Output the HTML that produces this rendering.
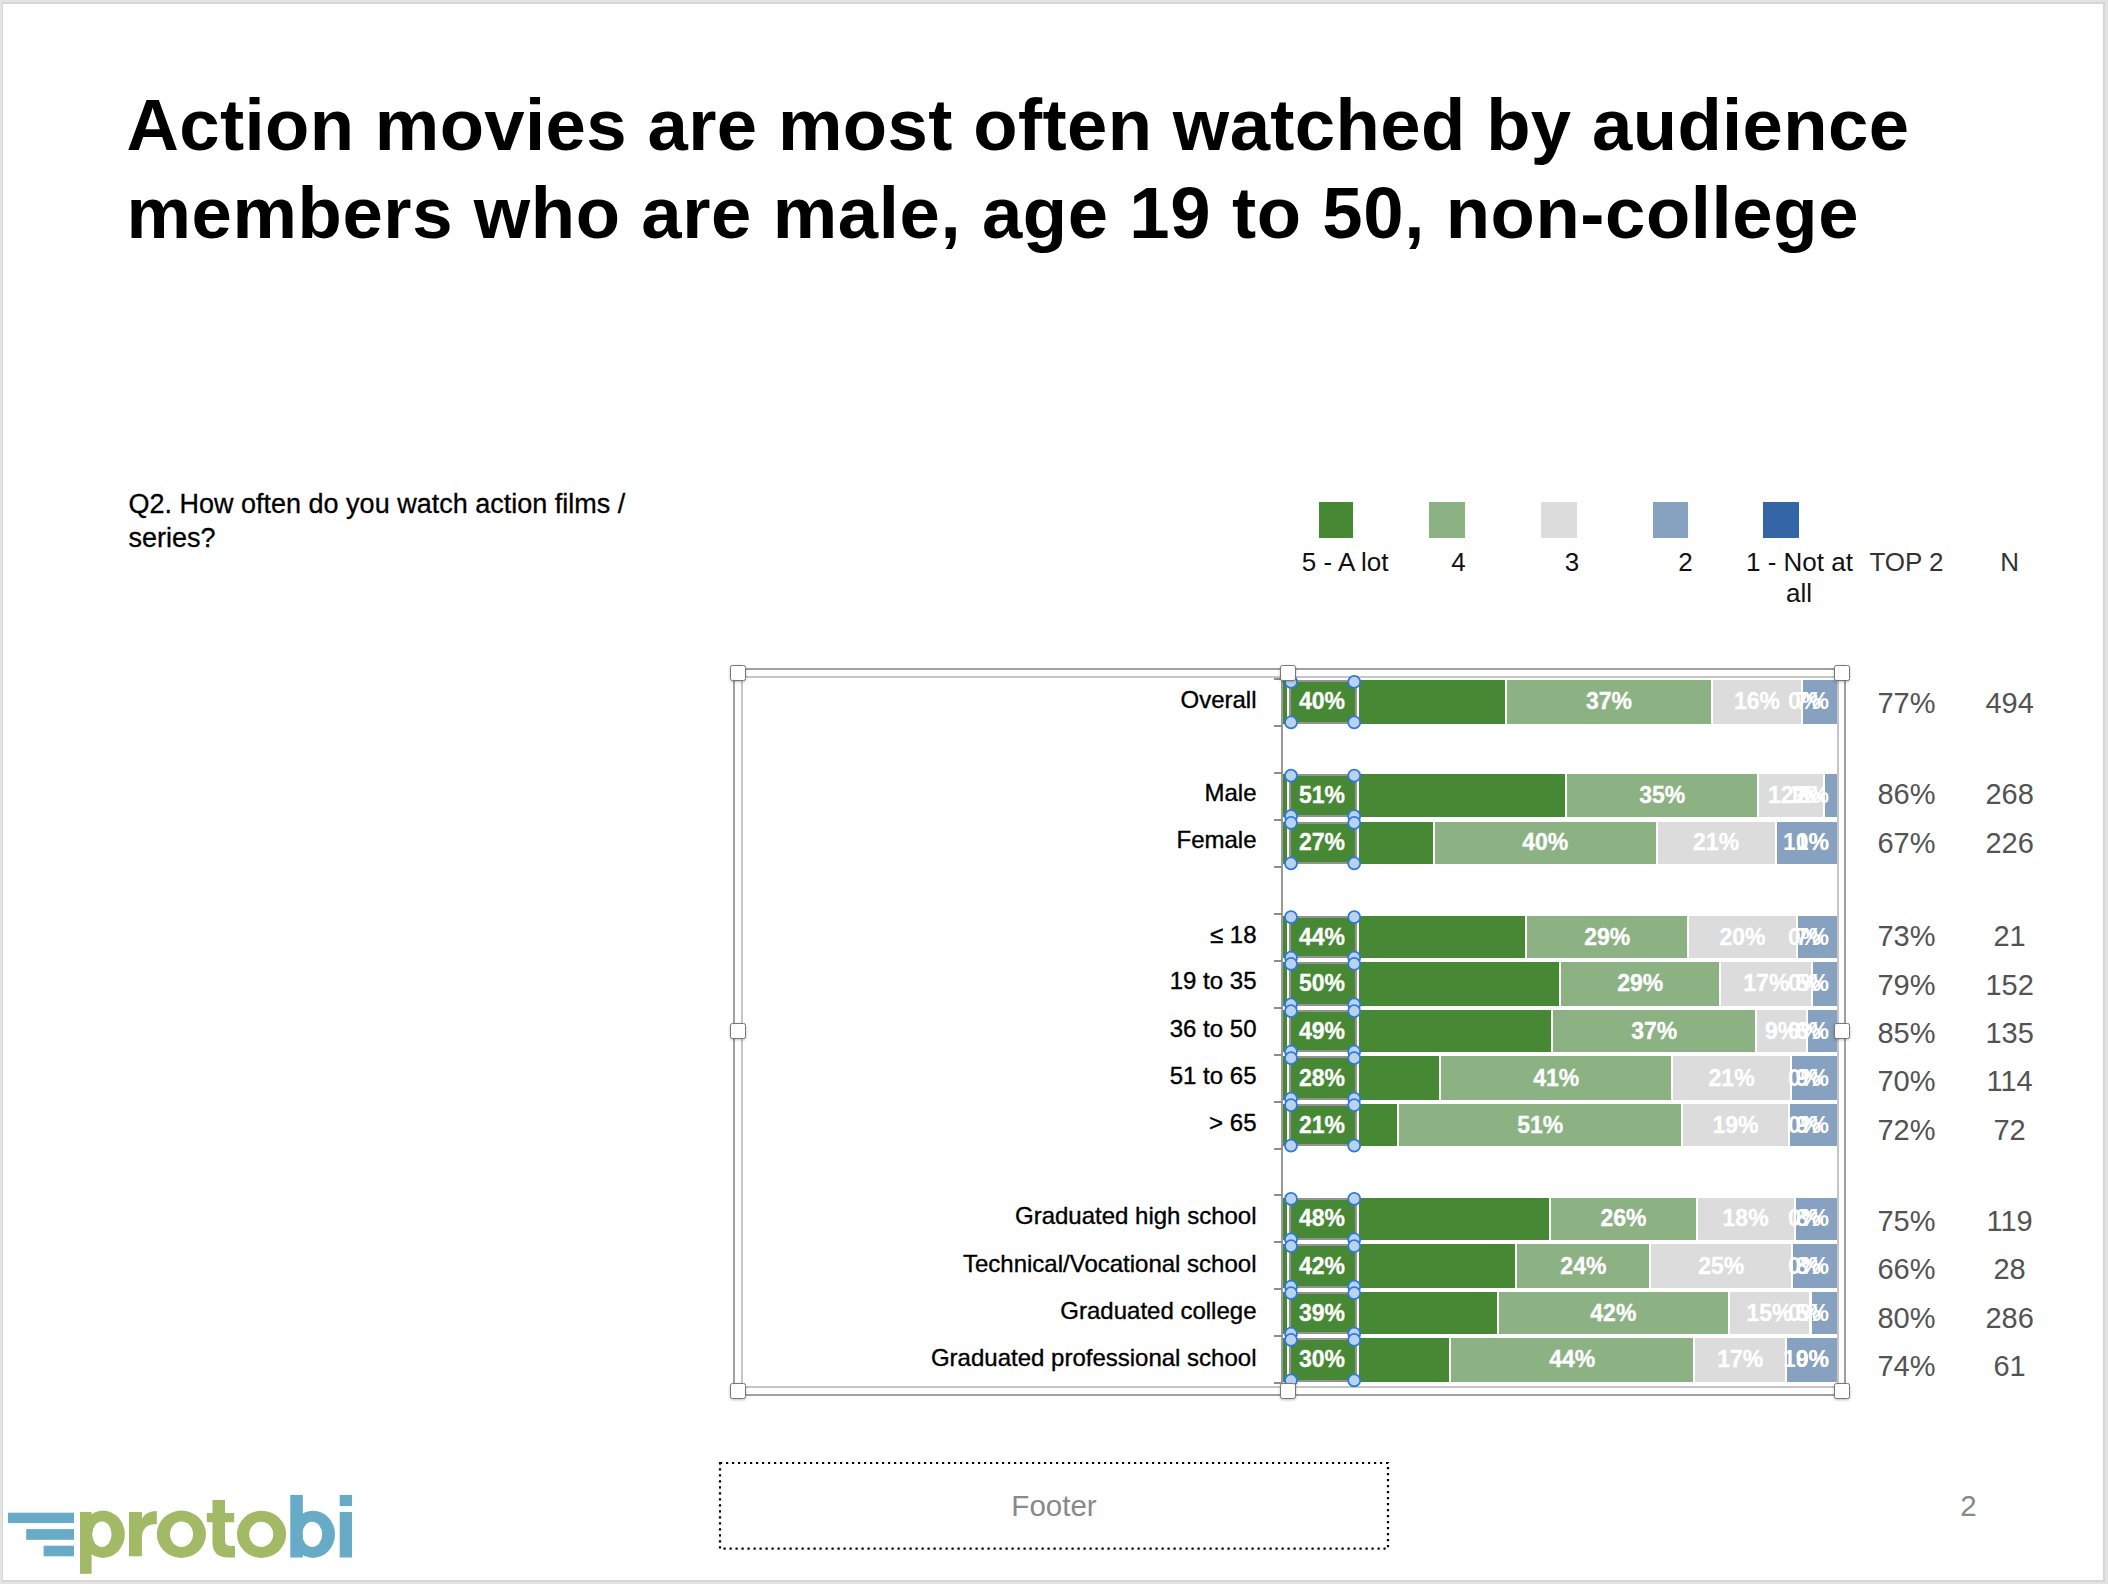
<!DOCTYPE html><html><head><meta charset="utf-8"><title>slide</title><style>
html,body{margin:0;padding:0;}
body{width:2108px;height:1584px;position:relative;overflow:hidden;background:#e4e4e4;font-family:"Liberation Sans", sans-serif;}
.t{position:absolute;white-space:nowrap;}
.tc{text-align:center;}
.r{position:absolute;box-sizing:border-box;}
</style></head><body>
<div class="r" style="left:1.50px;top:1.50px;width:2103.50px;height:1580.00px;background:#d6d6d6;"></div>
<div class="r" style="left:3.00px;top:4.00px;width:2100.00px;height:1576.00px;background:#fff;"></div>
<div class="t" style="left:126.50px;top:89.33px;font-size:72.5px;line-height:72.5px;color:#000;font-weight:bold;letter-spacing:0.38px;">Action movies are most often watched by audience</div>
<div class="t" style="left:126.50px;top:176.63px;font-size:72.5px;line-height:72.5px;color:#000;font-weight:bold;letter-spacing:0.6px;">members who are male, age 19 to 50, non-college</div>
<div class="t" style="left:128.50px;top:491.44px;font-size:27px;line-height:27px;color:#000;font-weight:normal;-webkit-text-stroke:0.3px #000;">Q2. How often do you watch action films /</div>
<div class="t" style="left:128.50px;top:525.34px;font-size:27px;line-height:27px;color:#000;font-weight:normal;-webkit-text-stroke:0.3px #000;">series?</div>
<div class="r" style="left:1319.00px;top:502.00px;width:34.00px;height:36.00px;background:#468834;"></div>
<div class="r" style="left:1429.00px;top:502.00px;width:35.50px;height:36.00px;background:#8cb284;"></div>
<div class="r" style="left:1541.00px;top:502.00px;width:35.50px;height:36.00px;background:#dcdcdc;"></div>
<div class="r" style="left:1652.50px;top:502.00px;width:35.50px;height:36.00px;background:#87a1c1;"></div>
<div class="r" style="left:1763.00px;top:502.00px;width:35.50px;height:36.00px;background:#3465a4;"></div>
<div class="t tc" style="left:1045.20px;width:600px;top:548.59px;font-size:26px;line-height:26px;color:#111;font-weight:normal;">5 - A lot</div>
<div class="t tc" style="left:1158.50px;width:600px;top:548.59px;font-size:26px;line-height:26px;color:#111;font-weight:normal;">4</div>
<div class="t tc" style="left:1272.00px;width:600px;top:548.59px;font-size:26px;line-height:26px;color:#111;font-weight:normal;">3</div>
<div class="t tc" style="left:1385.50px;width:600px;top:548.59px;font-size:26px;line-height:26px;color:#111;font-weight:normal;">2</div>
<div class="t tc" style="left:1499.50px;width:600px;top:548.59px;font-size:26px;line-height:26px;color:#111;font-weight:normal;">1 - Not at</div>
<div class="t tc" style="left:1499.00px;width:600px;top:580.39px;font-size:26px;line-height:26px;color:#111;font-weight:normal;">all</div>
<div class="t tc" style="left:1606.50px;width:600px;top:548.59px;font-size:26px;line-height:26px;color:#333;font-weight:normal;">TOP 2</div>
<div class="t tc" style="left:1709.75px;width:600px;top:548.59px;font-size:26px;line-height:26px;color:#333;font-weight:normal;">N</div>
<div class="r" style="left:733.00px;top:668.00px;width:1113.00px;height:2.00px;background:#a0a0a0;"></div>
<div class="r" style="left:733.00px;top:1394.00px;width:1113.00px;height:2.00px;background:#a0a0a0;"></div>
<div class="r" style="left:733.00px;top:668.00px;width:2.00px;height:728.00px;background:#a0a0a0;"></div>
<div class="r" style="left:1844.00px;top:668.00px;width:2.00px;height:728.00px;background:#a0a0a0;"></div>
<div class="r" style="left:741.00px;top:676.00px;width:1098.00px;height:2.00px;background:#c6c6c6;"></div>
<div class="r" style="left:741.00px;top:1386.00px;width:1098.00px;height:2.00px;background:#c6c6c6;"></div>
<div class="r" style="left:741.00px;top:676.00px;width:2.00px;height:712.00px;background:#c6c6c6;"></div>
<div class="r" style="left:1837.00px;top:676.00px;width:2.00px;height:712.00px;background:#c6c6c6;"></div>
<div class="r" style="left:1281.00px;top:677.00px;width:2.00px;height:710.00px;background:#999;"></div>
<div class="r" style="left:1274.00px;top:678.00px;width:8.00px;height:2.00px;background:#8c8c8c;"></div>
<div class="r" style="left:1274.00px;top:725.00px;width:8.00px;height:2.00px;background:#8c8c8c;"></div>
<div class="r" style="left:1274.00px;top:772.00px;width:8.00px;height:2.00px;background:#8c8c8c;"></div>
<div class="r" style="left:1274.00px;top:819.00px;width:8.00px;height:2.00px;background:#8c8c8c;"></div>
<div class="r" style="left:1274.00px;top:866.00px;width:8.00px;height:2.00px;background:#8c8c8c;"></div>
<div class="r" style="left:1274.00px;top:913.00px;width:8.00px;height:2.00px;background:#8c8c8c;"></div>
<div class="r" style="left:1274.00px;top:960.00px;width:8.00px;height:2.00px;background:#8c8c8c;"></div>
<div class="r" style="left:1274.00px;top:1007.00px;width:8.00px;height:2.00px;background:#8c8c8c;"></div>
<div class="r" style="left:1274.00px;top:1054.00px;width:8.00px;height:2.00px;background:#8c8c8c;"></div>
<div class="r" style="left:1274.00px;top:1101.00px;width:8.00px;height:2.00px;background:#8c8c8c;"></div>
<div class="r" style="left:1274.00px;top:1148.00px;width:8.00px;height:2.00px;background:#8c8c8c;"></div>
<div class="r" style="left:1274.00px;top:1194.00px;width:8.00px;height:2.00px;background:#8c8c8c;"></div>
<div class="r" style="left:1274.00px;top:1241.00px;width:8.00px;height:2.00px;background:#8c8c8c;"></div>
<div class="r" style="left:1274.00px;top:1288.00px;width:8.00px;height:2.00px;background:#8c8c8c;"></div>
<div class="r" style="left:1274.00px;top:1335.00px;width:8.00px;height:2.00px;background:#8c8c8c;"></div>
<div class="r" style="left:1274.00px;top:1382.00px;width:8.00px;height:2.00px;background:#8c8c8c;"></div>
<div class="r" style="left:1282.80px;top:680.00px;width:222.20px;height:43.70px;background:#468834;"></div>
<div class="r" style="left:1507.00px;top:680.00px;width:204.00px;height:43.70px;background:#8cb284;"></div>
<div class="r" style="left:1713.00px;top:680.00px;width:88.00px;height:43.70px;background:#dcdcdc;"></div>
<div class="r" style="left:1803.00px;top:680.00px;width:34.00px;height:43.70px;background:#87a1c1;"></div>
<div class="r" style="left:1287.20px;top:680.00px;width:71.80px;height:43.70px;border-left:2px solid #fff;border-right:2px solid #fff;"></div>
<div class="r" style="left:1289.00px;top:680.00px;width:68.00px;height:43.70px;border:2px solid #939393;"></div>
<div class="t tc" style="left:1022.00px;width:600px;top:690.48px;font-size:23px;line-height:23px;color:#fff;font-weight:bold;-webkit-text-stroke:0.3px #fff;">40%</div>
<div class="t tc" style="left:1309.00px;width:600px;top:690.48px;font-size:23px;line-height:23px;color:#fff;font-weight:bold;-webkit-text-stroke:0.3px #fff;">37%</div>
<div class="t tc" style="left:1457.00px;width:600px;top:690.48px;font-size:23px;line-height:23px;color:#fff;font-weight:bold;-webkit-text-stroke:0.3px #fff;">16%</div>
<div class="t" style="left:1788.00px;top:690.48px;font-size:23px;line-height:23px;color:#fff;font-weight:bold;">0%</div>
<div class="t" style="right:279.00px;top:690.48px;font-size:23px;line-height:23px;color:#fff;font-weight:bold;">7%</div>
<div class="t" style="right:851.50px;top:687.53px;font-size:24px;line-height:24px;color:#000;font-weight:normal;-webkit-text-stroke:0.35px #000;">Overall</div>
<div class="t tc" style="left:1606.50px;width:600px;top:688.65px;font-size:29px;line-height:29px;color:#535353;font-weight:normal;">77%</div>
<div class="t tc" style="left:1709.60px;width:600px;top:688.65px;font-size:29px;line-height:29px;color:#535353;font-weight:normal;">494</div>
<div class="r" style="left:1282.80px;top:774.00px;width:282.50px;height:42.90px;background:#468834;"></div>
<div class="r" style="left:1567.30px;top:774.00px;width:190.00px;height:42.90px;background:#8cb284;"></div>
<div class="r" style="left:1759.30px;top:774.00px;width:63.30px;height:42.90px;background:#dcdcdc;"></div>
<div class="r" style="left:1824.60px;top:774.00px;width:12.40px;height:42.90px;background:#87a1c1;"></div>
<div class="r" style="left:1287.20px;top:774.00px;width:71.80px;height:42.90px;border-left:2px solid #fff;border-right:2px solid #fff;"></div>
<div class="r" style="left:1289.00px;top:774.00px;width:68.00px;height:42.90px;border:2px solid #939393;"></div>
<div class="t tc" style="left:1022.00px;width:600px;top:784.08px;font-size:23px;line-height:23px;color:#fff;font-weight:bold;-webkit-text-stroke:0.3px #fff;">51%</div>
<div class="t tc" style="left:1362.30px;width:600px;top:784.08px;font-size:23px;line-height:23px;color:#fff;font-weight:bold;-webkit-text-stroke:0.3px #fff;">35%</div>
<div class="t tc" style="left:1490.95px;width:600px;top:784.08px;font-size:23px;line-height:23px;color:#fff;font-weight:bold;-webkit-text-stroke:0.3px #fff;">12%</div>
<div class="t" style="left:1788.00px;top:784.08px;font-size:23px;line-height:23px;color:#fff;font-weight:bold;">1%</div>
<div class="t" style="right:279.00px;top:784.08px;font-size:23px;line-height:23px;color:#fff;font-weight:bold;">2%</div>
<div class="t" style="right:851.50px;top:781.13px;font-size:24px;line-height:24px;color:#000;font-weight:normal;-webkit-text-stroke:0.35px #000;">Male</div>
<div class="t tc" style="left:1606.50px;width:600px;top:780.40px;font-size:29px;line-height:29px;color:#535353;font-weight:normal;">86%</div>
<div class="t tc" style="left:1709.60px;width:600px;top:780.40px;font-size:29px;line-height:29px;color:#535353;font-weight:normal;">268</div>
<div class="r" style="left:1282.80px;top:821.80px;width:150.20px;height:41.90px;background:#468834;"></div>
<div class="r" style="left:1435.00px;top:821.80px;width:220.50px;height:41.90px;background:#8cb284;"></div>
<div class="r" style="left:1657.50px;top:821.80px;width:117.20px;height:41.90px;background:#dcdcdc;"></div>
<div class="r" style="left:1776.70px;top:821.80px;width:60.30px;height:41.90px;background:#87a1c1;"></div>
<div class="r" style="left:1287.20px;top:821.80px;width:71.80px;height:41.90px;border-left:2px solid #fff;border-right:2px solid #fff;"></div>
<div class="r" style="left:1289.00px;top:821.80px;width:68.00px;height:41.90px;border:2px solid #939393;"></div>
<div class="t tc" style="left:1022.00px;width:600px;top:831.38px;font-size:23px;line-height:23px;color:#fff;font-weight:bold;-webkit-text-stroke:0.3px #fff;">27%</div>
<div class="t tc" style="left:1245.25px;width:600px;top:831.38px;font-size:23px;line-height:23px;color:#fff;font-weight:bold;-webkit-text-stroke:0.3px #fff;">40%</div>
<div class="t tc" style="left:1416.10px;width:600px;top:831.38px;font-size:23px;line-height:23px;color:#fff;font-weight:bold;-webkit-text-stroke:0.3px #fff;">21%</div>
<div class="t" style="right:279.00px;top:831.38px;font-size:23px;line-height:23px;color:#fff;font-weight:bold;">10%</div>
<div class="t" style="right:279.00px;top:831.38px;font-size:23px;line-height:23px;color:#fff;font-weight:bold;">1%</div>
<div class="t" style="right:851.50px;top:828.43px;font-size:24px;line-height:24px;color:#000;font-weight:normal;-webkit-text-stroke:0.35px #000;">Female</div>
<div class="t tc" style="left:1606.50px;width:600px;top:829.45px;font-size:29px;line-height:29px;color:#535353;font-weight:normal;">67%</div>
<div class="t tc" style="left:1709.60px;width:600px;top:829.45px;font-size:29px;line-height:29px;color:#535353;font-weight:normal;">226</div>
<div class="r" style="left:1282.80px;top:916.10px;width:242.50px;height:41.70px;background:#468834;"></div>
<div class="r" style="left:1527.30px;top:916.10px;width:160.00px;height:41.70px;background:#8cb284;"></div>
<div class="r" style="left:1689.30px;top:916.10px;width:106.40px;height:41.70px;background:#dcdcdc;"></div>
<div class="r" style="left:1797.70px;top:916.10px;width:39.30px;height:41.70px;background:#87a1c1;"></div>
<div class="r" style="left:1287.20px;top:916.10px;width:71.80px;height:41.70px;border-left:2px solid #fff;border-right:2px solid #fff;"></div>
<div class="r" style="left:1289.00px;top:916.10px;width:68.00px;height:41.70px;border:2px solid #939393;"></div>
<div class="t tc" style="left:1022.00px;width:600px;top:925.58px;font-size:23px;line-height:23px;color:#fff;font-weight:bold;-webkit-text-stroke:0.3px #fff;">44%</div>
<div class="t tc" style="left:1307.30px;width:600px;top:925.58px;font-size:23px;line-height:23px;color:#fff;font-weight:bold;-webkit-text-stroke:0.3px #fff;">29%</div>
<div class="t tc" style="left:1442.50px;width:600px;top:925.58px;font-size:23px;line-height:23px;color:#fff;font-weight:bold;-webkit-text-stroke:0.3px #fff;">20%</div>
<div class="t" style="left:1788.00px;top:925.58px;font-size:23px;line-height:23px;color:#fff;font-weight:bold;">0%</div>
<div class="t" style="right:279.00px;top:925.58px;font-size:23px;line-height:23px;color:#fff;font-weight:bold;">7%</div>
<div class="t" style="right:851.50px;top:922.63px;font-size:24px;line-height:24px;color:#000;font-weight:normal;-webkit-text-stroke:0.35px #000;">&le; 18</div>
<div class="t tc" style="left:1606.50px;width:600px;top:922.15px;font-size:29px;line-height:29px;color:#535353;font-weight:normal;">73%</div>
<div class="t tc" style="left:1709.60px;width:600px;top:922.15px;font-size:29px;line-height:29px;color:#535353;font-weight:normal;">21</div>
<div class="r" style="left:1282.80px;top:962.00px;width:276.40px;height:43.60px;background:#468834;"></div>
<div class="r" style="left:1561.20px;top:962.00px;width:158.10px;height:43.60px;background:#8cb284;"></div>
<div class="r" style="left:1721.30px;top:962.00px;width:90.10px;height:43.60px;background:#dcdcdc;"></div>
<div class="r" style="left:1813.40px;top:962.00px;width:23.60px;height:43.60px;background:#87a1c1;"></div>
<div class="r" style="left:1287.20px;top:962.00px;width:71.80px;height:43.60px;border-left:2px solid #fff;border-right:2px solid #fff;"></div>
<div class="r" style="left:1289.00px;top:962.00px;width:68.00px;height:43.60px;border:2px solid #939393;"></div>
<div class="t tc" style="left:1022.00px;width:600px;top:972.43px;font-size:23px;line-height:23px;color:#fff;font-weight:bold;-webkit-text-stroke:0.3px #fff;">50%</div>
<div class="t tc" style="left:1340.25px;width:600px;top:972.43px;font-size:23px;line-height:23px;color:#fff;font-weight:bold;-webkit-text-stroke:0.3px #fff;">29%</div>
<div class="t tc" style="left:1466.35px;width:600px;top:972.43px;font-size:23px;line-height:23px;color:#fff;font-weight:bold;-webkit-text-stroke:0.3px #fff;">17%</div>
<div class="t" style="left:1788.00px;top:972.43px;font-size:23px;line-height:23px;color:#fff;font-weight:bold;">0%</div>
<div class="t" style="right:279.00px;top:972.43px;font-size:23px;line-height:23px;color:#fff;font-weight:bold;">5%</div>
<div class="t" style="right:851.50px;top:969.48px;font-size:24px;line-height:24px;color:#000;font-weight:normal;-webkit-text-stroke:0.35px #000;">19 to 35</div>
<div class="t tc" style="left:1606.50px;width:600px;top:970.85px;font-size:29px;line-height:29px;color:#535353;font-weight:normal;">79%</div>
<div class="t tc" style="left:1709.60px;width:600px;top:970.85px;font-size:29px;line-height:29px;color:#535353;font-weight:normal;">152</div>
<div class="r" style="left:1282.80px;top:1010.10px;width:268.40px;height:41.80px;background:#468834;"></div>
<div class="r" style="left:1553.20px;top:1010.10px;width:202.20px;height:41.80px;background:#8cb284;"></div>
<div class="r" style="left:1757.40px;top:1010.10px;width:48.60px;height:41.80px;background:#dcdcdc;"></div>
<div class="r" style="left:1808.00px;top:1010.10px;width:29.00px;height:41.80px;background:#87a1c1;"></div>
<div class="r" style="left:1287.20px;top:1010.10px;width:71.80px;height:41.80px;border-left:2px solid #fff;border-right:2px solid #fff;"></div>
<div class="r" style="left:1289.00px;top:1010.10px;width:68.00px;height:41.80px;border:2px solid #939393;"></div>
<div class="t tc" style="left:1022.00px;width:600px;top:1019.63px;font-size:23px;line-height:23px;color:#fff;font-weight:bold;-webkit-text-stroke:0.3px #fff;">49%</div>
<div class="t tc" style="left:1354.30px;width:600px;top:1019.63px;font-size:23px;line-height:23px;color:#fff;font-weight:bold;-webkit-text-stroke:0.3px #fff;">37%</div>
<div class="t tc" style="left:1481.70px;width:600px;top:1019.63px;font-size:23px;line-height:23px;color:#fff;font-weight:bold;-webkit-text-stroke:0.3px #fff;">9%</div>
<div class="t" style="left:1788.00px;top:1019.63px;font-size:23px;line-height:23px;color:#fff;font-weight:bold;">0%</div>
<div class="t" style="right:279.00px;top:1019.63px;font-size:23px;line-height:23px;color:#fff;font-weight:bold;">6%</div>
<div class="t" style="right:851.50px;top:1016.68px;font-size:24px;line-height:24px;color:#000;font-weight:normal;-webkit-text-stroke:0.35px #000;">36 to 50</div>
<div class="t tc" style="left:1606.50px;width:600px;top:1018.65px;font-size:29px;line-height:29px;color:#535353;font-weight:normal;">85%</div>
<div class="t tc" style="left:1709.60px;width:600px;top:1018.65px;font-size:29px;line-height:29px;color:#535353;font-weight:normal;">135</div>
<div class="r" style="left:1282.80px;top:1056.10px;width:156.40px;height:43.90px;background:#468834;"></div>
<div class="r" style="left:1441.20px;top:1056.10px;width:230.20px;height:43.90px;background:#8cb284;"></div>
<div class="r" style="left:1673.40px;top:1056.10px;width:116.40px;height:43.90px;background:#dcdcdc;"></div>
<div class="r" style="left:1791.80px;top:1056.10px;width:45.20px;height:43.90px;background:#87a1c1;"></div>
<div class="r" style="left:1287.20px;top:1056.10px;width:71.80px;height:43.90px;border-left:2px solid #fff;border-right:2px solid #fff;"></div>
<div class="r" style="left:1289.00px;top:1056.10px;width:68.00px;height:43.90px;border:2px solid #939393;"></div>
<div class="t tc" style="left:1022.00px;width:600px;top:1066.68px;font-size:23px;line-height:23px;color:#fff;font-weight:bold;-webkit-text-stroke:0.3px #fff;">28%</div>
<div class="t tc" style="left:1256.30px;width:600px;top:1066.68px;font-size:23px;line-height:23px;color:#fff;font-weight:bold;-webkit-text-stroke:0.3px #fff;">41%</div>
<div class="t tc" style="left:1431.60px;width:600px;top:1066.68px;font-size:23px;line-height:23px;color:#fff;font-weight:bold;-webkit-text-stroke:0.3px #fff;">21%</div>
<div class="t" style="left:1788.00px;top:1066.68px;font-size:23px;line-height:23px;color:#fff;font-weight:bold;">0%</div>
<div class="t" style="right:279.00px;top:1066.68px;font-size:23px;line-height:23px;color:#fff;font-weight:bold;">9%</div>
<div class="t" style="right:851.50px;top:1063.73px;font-size:24px;line-height:24px;color:#000;font-weight:normal;-webkit-text-stroke:0.35px #000;">51 to 65</div>
<div class="t tc" style="left:1606.50px;width:600px;top:1066.85px;font-size:29px;line-height:29px;color:#535353;font-weight:normal;">70%</div>
<div class="t tc" style="left:1709.60px;width:600px;top:1066.85px;font-size:29px;line-height:29px;color:#535353;font-weight:normal;">114</div>
<div class="r" style="left:1282.80px;top:1104.00px;width:114.40px;height:42.00px;background:#468834;"></div>
<div class="r" style="left:1399.20px;top:1104.00px;width:282.20px;height:42.00px;background:#8cb284;"></div>
<div class="r" style="left:1683.40px;top:1104.00px;width:104.30px;height:42.00px;background:#dcdcdc;"></div>
<div class="r" style="left:1789.70px;top:1104.00px;width:47.30px;height:42.00px;background:#87a1c1;"></div>
<div class="r" style="left:1287.20px;top:1104.00px;width:71.80px;height:42.00px;border-left:2px solid #fff;border-right:2px solid #fff;"></div>
<div class="r" style="left:1289.00px;top:1104.00px;width:68.00px;height:42.00px;border:2px solid #939393;"></div>
<div class="t tc" style="left:1022.00px;width:600px;top:1113.63px;font-size:23px;line-height:23px;color:#fff;font-weight:bold;-webkit-text-stroke:0.3px #fff;">21%</div>
<div class="t tc" style="left:1240.30px;width:600px;top:1113.63px;font-size:23px;line-height:23px;color:#fff;font-weight:bold;-webkit-text-stroke:0.3px #fff;">51%</div>
<div class="t tc" style="left:1435.55px;width:600px;top:1113.63px;font-size:23px;line-height:23px;color:#fff;font-weight:bold;-webkit-text-stroke:0.3px #fff;">19%</div>
<div class="t" style="left:1788.00px;top:1113.63px;font-size:23px;line-height:23px;color:#fff;font-weight:bold;">0%</div>
<div class="t" style="right:279.00px;top:1113.63px;font-size:23px;line-height:23px;color:#fff;font-weight:bold;">9%</div>
<div class="t" style="right:851.50px;top:1110.68px;font-size:24px;line-height:24px;color:#000;font-weight:normal;-webkit-text-stroke:0.35px #000;">&gt; 65</div>
<div class="t tc" style="left:1606.50px;width:600px;top:1115.85px;font-size:29px;line-height:29px;color:#535353;font-weight:normal;">72%</div>
<div class="t tc" style="left:1709.60px;width:600px;top:1115.85px;font-size:29px;line-height:29px;color:#535353;font-weight:normal;">72</div>
<div class="r" style="left:1282.80px;top:1197.80px;width:266.50px;height:42.00px;background:#468834;"></div>
<div class="r" style="left:1551.30px;top:1197.80px;width:144.30px;height:42.00px;background:#8cb284;"></div>
<div class="r" style="left:1697.60px;top:1197.80px;width:96.00px;height:42.00px;background:#dcdcdc;"></div>
<div class="r" style="left:1795.60px;top:1197.80px;width:41.40px;height:42.00px;background:#87a1c1;"></div>
<div class="r" style="left:1287.20px;top:1197.80px;width:71.80px;height:42.00px;border-left:2px solid #fff;border-right:2px solid #fff;"></div>
<div class="r" style="left:1289.00px;top:1197.80px;width:68.00px;height:42.00px;border:2px solid #939393;"></div>
<div class="t tc" style="left:1022.00px;width:600px;top:1207.43px;font-size:23px;line-height:23px;color:#fff;font-weight:bold;-webkit-text-stroke:0.3px #fff;">48%</div>
<div class="t tc" style="left:1323.45px;width:600px;top:1207.43px;font-size:23px;line-height:23px;color:#fff;font-weight:bold;-webkit-text-stroke:0.3px #fff;">26%</div>
<div class="t tc" style="left:1445.60px;width:600px;top:1207.43px;font-size:23px;line-height:23px;color:#fff;font-weight:bold;-webkit-text-stroke:0.3px #fff;">18%</div>
<div class="t" style="left:1788.00px;top:1207.43px;font-size:23px;line-height:23px;color:#fff;font-weight:bold;">0%</div>
<div class="t" style="right:279.00px;top:1207.43px;font-size:23px;line-height:23px;color:#fff;font-weight:bold;">8%</div>
<div class="t" style="right:851.50px;top:1204.48px;font-size:24px;line-height:24px;color:#000;font-weight:normal;-webkit-text-stroke:0.35px #000;">Graduated high school</div>
<div class="t tc" style="left:1606.50px;width:600px;top:1207.45px;font-size:29px;line-height:29px;color:#535353;font-weight:normal;">75%</div>
<div class="t tc" style="left:1709.60px;width:600px;top:1207.45px;font-size:29px;line-height:29px;color:#535353;font-weight:normal;">119</div>
<div class="r" style="left:1282.80px;top:1244.00px;width:232.60px;height:43.90px;background:#468834;"></div>
<div class="r" style="left:1517.40px;top:1244.00px;width:132.00px;height:43.90px;background:#8cb284;"></div>
<div class="r" style="left:1651.40px;top:1244.00px;width:139.80px;height:43.90px;background:#dcdcdc;"></div>
<div class="r" style="left:1793.20px;top:1244.00px;width:43.80px;height:43.90px;background:#87a1c1;"></div>
<div class="r" style="left:1287.20px;top:1244.00px;width:71.80px;height:43.90px;border-left:2px solid #fff;border-right:2px solid #fff;"></div>
<div class="r" style="left:1289.00px;top:1244.00px;width:68.00px;height:43.90px;border:2px solid #939393;"></div>
<div class="t tc" style="left:1022.00px;width:600px;top:1254.58px;font-size:23px;line-height:23px;color:#fff;font-weight:bold;-webkit-text-stroke:0.3px #fff;">42%</div>
<div class="t tc" style="left:1283.40px;width:600px;top:1254.58px;font-size:23px;line-height:23px;color:#fff;font-weight:bold;-webkit-text-stroke:0.3px #fff;">24%</div>
<div class="t tc" style="left:1421.30px;width:600px;top:1254.58px;font-size:23px;line-height:23px;color:#fff;font-weight:bold;-webkit-text-stroke:0.3px #fff;">25%</div>
<div class="t" style="left:1788.00px;top:1254.58px;font-size:23px;line-height:23px;color:#fff;font-weight:bold;">0%</div>
<div class="t" style="right:279.00px;top:1254.58px;font-size:23px;line-height:23px;color:#fff;font-weight:bold;">8%</div>
<div class="t" style="right:851.50px;top:1251.63px;font-size:24px;line-height:24px;color:#000;font-weight:normal;-webkit-text-stroke:0.35px #000;">Technical/Vocational school</div>
<div class="t tc" style="left:1606.50px;width:600px;top:1255.45px;font-size:29px;line-height:29px;color:#535353;font-weight:normal;">66%</div>
<div class="t tc" style="left:1709.60px;width:600px;top:1255.45px;font-size:29px;line-height:29px;color:#535353;font-weight:normal;">28</div>
<div class="r" style="left:1282.80px;top:1292.20px;width:214.30px;height:41.50px;background:#468834;"></div>
<div class="r" style="left:1499.10px;top:1292.20px;width:228.50px;height:41.50px;background:#8cb284;"></div>
<div class="r" style="left:1729.60px;top:1292.20px;width:79.90px;height:41.50px;background:#dcdcdc;"></div>
<div class="r" style="left:1811.50px;top:1292.20px;width:25.50px;height:41.50px;background:#87a1c1;"></div>
<div class="r" style="left:1287.20px;top:1292.20px;width:71.80px;height:41.50px;border-left:2px solid #fff;border-right:2px solid #fff;"></div>
<div class="r" style="left:1289.00px;top:1292.20px;width:68.00px;height:41.50px;border:2px solid #939393;"></div>
<div class="t tc" style="left:1022.00px;width:600px;top:1301.58px;font-size:23px;line-height:23px;color:#fff;font-weight:bold;-webkit-text-stroke:0.3px #fff;">39%</div>
<div class="t tc" style="left:1313.35px;width:600px;top:1301.58px;font-size:23px;line-height:23px;color:#fff;font-weight:bold;-webkit-text-stroke:0.3px #fff;">42%</div>
<div class="t tc" style="left:1469.55px;width:600px;top:1301.58px;font-size:23px;line-height:23px;color:#fff;font-weight:bold;-webkit-text-stroke:0.3px #fff;">15%</div>
<div class="t" style="left:1788.00px;top:1301.58px;font-size:23px;line-height:23px;color:#fff;font-weight:bold;">0%</div>
<div class="t" style="right:279.00px;top:1301.58px;font-size:23px;line-height:23px;color:#fff;font-weight:bold;">5%</div>
<div class="t" style="right:851.50px;top:1298.63px;font-size:24px;line-height:24px;color:#000;font-weight:normal;-webkit-text-stroke:0.35px #000;">Graduated college</div>
<div class="t tc" style="left:1606.50px;width:600px;top:1304.45px;font-size:29px;line-height:29px;color:#535353;font-weight:normal;">80%</div>
<div class="t tc" style="left:1709.60px;width:600px;top:1304.45px;font-size:29px;line-height:29px;color:#535353;font-weight:normal;">286</div>
<div class="r" style="left:1282.80px;top:1337.70px;width:166.40px;height:44.30px;background:#468834;"></div>
<div class="r" style="left:1451.20px;top:1337.70px;width:242.10px;height:44.30px;background:#8cb284;"></div>
<div class="r" style="left:1695.30px;top:1337.70px;width:90.00px;height:44.30px;background:#dcdcdc;"></div>
<div class="r" style="left:1787.30px;top:1337.70px;width:49.70px;height:44.30px;background:#87a1c1;"></div>
<div class="r" style="left:1287.20px;top:1337.70px;width:71.80px;height:44.30px;border-left:2px solid #fff;border-right:2px solid #fff;"></div>
<div class="r" style="left:1289.00px;top:1337.70px;width:68.00px;height:44.30px;border:2px solid #939393;"></div>
<div class="t tc" style="left:1022.00px;width:600px;top:1348.48px;font-size:23px;line-height:23px;color:#fff;font-weight:bold;-webkit-text-stroke:0.3px #fff;">30%</div>
<div class="t tc" style="left:1272.25px;width:600px;top:1348.48px;font-size:23px;line-height:23px;color:#fff;font-weight:bold;-webkit-text-stroke:0.3px #fff;">44%</div>
<div class="t tc" style="left:1440.30px;width:600px;top:1348.48px;font-size:23px;line-height:23px;color:#fff;font-weight:bold;-webkit-text-stroke:0.3px #fff;">17%</div>
<div class="t" style="right:279.00px;top:1348.48px;font-size:23px;line-height:23px;color:#fff;font-weight:bold;">10%</div>
<div class="t" style="right:279.00px;top:1348.48px;font-size:23px;line-height:23px;color:#fff;font-weight:bold;">9%</div>
<div class="t" style="right:851.50px;top:1345.53px;font-size:24px;line-height:24px;color:#000;font-weight:normal;-webkit-text-stroke:0.35px #000;">Graduated professional school</div>
<div class="t tc" style="left:1606.50px;width:600px;top:1352.45px;font-size:29px;line-height:29px;color:#535353;font-weight:normal;">74%</div>
<div class="t tc" style="left:1709.60px;width:600px;top:1352.45px;font-size:29px;line-height:29px;color:#535353;font-weight:normal;">61</div>
<svg class="r" style="left:1270px;top:660px" width="100" height="740" viewBox="1270 660 100 740"><circle cx="1291.00" cy="681.95" r="6" fill="#b9d3ee" stroke="#2f79d8" stroke-width="1.8"/><circle cx="1291.00" cy="722.45" r="6" fill="#b9d3ee" stroke="#2f79d8" stroke-width="1.8"/><circle cx="1354.20" cy="681.95" r="6" fill="#b9d3ee" stroke="#2f79d8" stroke-width="1.8"/><circle cx="1354.20" cy="722.45" r="6" fill="#b9d3ee" stroke="#2f79d8" stroke-width="1.8"/><circle cx="1291.00" cy="775.55" r="6" fill="#b9d3ee" stroke="#2f79d8" stroke-width="1.8"/><circle cx="1291.00" cy="816.05" r="6" fill="#b9d3ee" stroke="#2f79d8" stroke-width="1.8"/><circle cx="1354.20" cy="775.55" r="6" fill="#b9d3ee" stroke="#2f79d8" stroke-width="1.8"/><circle cx="1354.20" cy="816.05" r="6" fill="#b9d3ee" stroke="#2f79d8" stroke-width="1.8"/><circle cx="1291.00" cy="822.85" r="6" fill="#b9d3ee" stroke="#2f79d8" stroke-width="1.8"/><circle cx="1291.00" cy="863.35" r="6" fill="#b9d3ee" stroke="#2f79d8" stroke-width="1.8"/><circle cx="1354.20" cy="822.85" r="6" fill="#b9d3ee" stroke="#2f79d8" stroke-width="1.8"/><circle cx="1354.20" cy="863.35" r="6" fill="#b9d3ee" stroke="#2f79d8" stroke-width="1.8"/><circle cx="1291.00" cy="917.05" r="6" fill="#b9d3ee" stroke="#2f79d8" stroke-width="1.8"/><circle cx="1291.00" cy="957.55" r="6" fill="#b9d3ee" stroke="#2f79d8" stroke-width="1.8"/><circle cx="1354.20" cy="917.05" r="6" fill="#b9d3ee" stroke="#2f79d8" stroke-width="1.8"/><circle cx="1354.20" cy="957.55" r="6" fill="#b9d3ee" stroke="#2f79d8" stroke-width="1.8"/><circle cx="1291.00" cy="963.90" r="6" fill="#b9d3ee" stroke="#2f79d8" stroke-width="1.8"/><circle cx="1291.00" cy="1004.40" r="6" fill="#b9d3ee" stroke="#2f79d8" stroke-width="1.8"/><circle cx="1354.20" cy="963.90" r="6" fill="#b9d3ee" stroke="#2f79d8" stroke-width="1.8"/><circle cx="1354.20" cy="1004.40" r="6" fill="#b9d3ee" stroke="#2f79d8" stroke-width="1.8"/><circle cx="1291.00" cy="1011.10" r="6" fill="#b9d3ee" stroke="#2f79d8" stroke-width="1.8"/><circle cx="1291.00" cy="1051.60" r="6" fill="#b9d3ee" stroke="#2f79d8" stroke-width="1.8"/><circle cx="1354.20" cy="1011.10" r="6" fill="#b9d3ee" stroke="#2f79d8" stroke-width="1.8"/><circle cx="1354.20" cy="1051.60" r="6" fill="#b9d3ee" stroke="#2f79d8" stroke-width="1.8"/><circle cx="1291.00" cy="1058.15" r="6" fill="#b9d3ee" stroke="#2f79d8" stroke-width="1.8"/><circle cx="1291.00" cy="1098.65" r="6" fill="#b9d3ee" stroke="#2f79d8" stroke-width="1.8"/><circle cx="1354.20" cy="1058.15" r="6" fill="#b9d3ee" stroke="#2f79d8" stroke-width="1.8"/><circle cx="1354.20" cy="1098.65" r="6" fill="#b9d3ee" stroke="#2f79d8" stroke-width="1.8"/><circle cx="1291.00" cy="1105.10" r="6" fill="#b9d3ee" stroke="#2f79d8" stroke-width="1.8"/><circle cx="1291.00" cy="1145.60" r="6" fill="#b9d3ee" stroke="#2f79d8" stroke-width="1.8"/><circle cx="1354.20" cy="1105.10" r="6" fill="#b9d3ee" stroke="#2f79d8" stroke-width="1.8"/><circle cx="1354.20" cy="1145.60" r="6" fill="#b9d3ee" stroke="#2f79d8" stroke-width="1.8"/><circle cx="1291.00" cy="1198.90" r="6" fill="#b9d3ee" stroke="#2f79d8" stroke-width="1.8"/><circle cx="1291.00" cy="1239.40" r="6" fill="#b9d3ee" stroke="#2f79d8" stroke-width="1.8"/><circle cx="1354.20" cy="1198.90" r="6" fill="#b9d3ee" stroke="#2f79d8" stroke-width="1.8"/><circle cx="1354.20" cy="1239.40" r="6" fill="#b9d3ee" stroke="#2f79d8" stroke-width="1.8"/><circle cx="1291.00" cy="1246.05" r="6" fill="#b9d3ee" stroke="#2f79d8" stroke-width="1.8"/><circle cx="1291.00" cy="1286.55" r="6" fill="#b9d3ee" stroke="#2f79d8" stroke-width="1.8"/><circle cx="1354.20" cy="1246.05" r="6" fill="#b9d3ee" stroke="#2f79d8" stroke-width="1.8"/><circle cx="1354.20" cy="1286.55" r="6" fill="#b9d3ee" stroke="#2f79d8" stroke-width="1.8"/><circle cx="1291.00" cy="1293.05" r="6" fill="#b9d3ee" stroke="#2f79d8" stroke-width="1.8"/><circle cx="1291.00" cy="1333.55" r="6" fill="#b9d3ee" stroke="#2f79d8" stroke-width="1.8"/><circle cx="1354.20" cy="1293.05" r="6" fill="#b9d3ee" stroke="#2f79d8" stroke-width="1.8"/><circle cx="1354.20" cy="1333.55" r="6" fill="#b9d3ee" stroke="#2f79d8" stroke-width="1.8"/><circle cx="1291.00" cy="1339.95" r="6" fill="#b9d3ee" stroke="#2f79d8" stroke-width="1.8"/><circle cx="1291.00" cy="1380.45" r="6" fill="#b9d3ee" stroke="#2f79d8" stroke-width="1.8"/><circle cx="1354.20" cy="1339.95" r="6" fill="#b9d3ee" stroke="#2f79d8" stroke-width="1.8"/><circle cx="1354.20" cy="1380.45" r="6" fill="#b9d3ee" stroke="#2f79d8" stroke-width="1.8"/></svg>
<div class="r" style="left:730.20px;top:665.20px;width:15.6px;height:15.6px;border-radius:2.5px;background:#fff;border:1.3px solid #777;box-shadow:0 1px 3px rgba(0,0,0,0.25);"></div>
<div class="r" style="left:730.20px;top:1023.20px;width:15.6px;height:15.6px;border-radius:2.5px;background:#fff;border:1.3px solid #777;box-shadow:0 1px 3px rgba(0,0,0,0.25);"></div>
<div class="r" style="left:730.20px;top:1383.20px;width:15.6px;height:15.6px;border-radius:2.5px;background:#fff;border:1.3px solid #777;box-shadow:0 1px 3px rgba(0,0,0,0.25);"></div>
<div class="r" style="left:1280.20px;top:665.20px;width:15.6px;height:15.6px;border-radius:2.5px;background:#fff;border:1.3px solid #777;box-shadow:0 1px 3px rgba(0,0,0,0.25);"></div>
<div class="r" style="left:1280.20px;top:1383.20px;width:15.6px;height:15.6px;border-radius:2.5px;background:#fff;border:1.3px solid #777;box-shadow:0 1px 3px rgba(0,0,0,0.25);"></div>
<div class="r" style="left:1834.20px;top:665.20px;width:15.6px;height:15.6px;border-radius:2.5px;background:#fff;border:1.3px solid #777;box-shadow:0 1px 3px rgba(0,0,0,0.25);"></div>
<div class="r" style="left:1834.20px;top:1023.20px;width:15.6px;height:15.6px;border-radius:2.5px;background:#fff;border:1.3px solid #777;box-shadow:0 1px 3px rgba(0,0,0,0.25);"></div>
<div class="r" style="left:1834.20px;top:1383.20px;width:15.6px;height:15.6px;border-radius:2.5px;background:#fff;border:1.3px solid #777;box-shadow:0 1px 3px rgba(0,0,0,0.25);"></div>
<svg class="r" style="left:700px;top:1440px" width="720" height="130" viewBox="700 1440 720 130"><rect x="720" y="1463" width="668" height="85.7" fill="none" stroke="#000" stroke-width="2.2" stroke-dasharray="2.2 3.8"/></svg>
<div class="t tc" style="left:754.00px;width:600px;top:1491.03px;font-size:29.5px;line-height:29.5px;color:#898989;font-weight:normal;">Footer</div>
<div class="t tc" style="left:1668.50px;width:600px;top:1491.43px;font-size:29.5px;line-height:29.5px;color:#898989;font-weight:normal;">2</div>
<svg class="r" style="left:0;top:1480px;width:380px;height:104px" width="380" height="104" viewBox="0 1480 380 104">
<rect x="8" y="1512.7" width="66" height="10.4" fill="#67abc6"/>
<rect x="26.2" y="1529.1" width="47.8" height="10.7" fill="#67abc6"/>
<rect x="43.6" y="1545.7" width="30.4" height="10.6" fill="#67abc6"/>
<ellipse cx="103" cy="1534.25" rx="21.8" ry="23.65" fill="#a2b966"/>
<ellipse cx="101.9" cy="1534.25" rx="9.7" ry="12.65" fill="#fff"/>
<rect x="80" y="1511.9" width="11.6" height="61.9" fill="#a2b966"/>
<path d="M129 1511.9 H141.9 V1518.5 Q146 1511 156.8 1511 V1524.1 Q141.9 1524.1 141.9 1538 V1556.2 H129 Z" fill="#a2b966"/>
<ellipse cx="181.4" cy="1534.25" rx="24.55" ry="23.65" fill="#a2b966"/>
<ellipse cx="181.5" cy="1534.25" rx="11.55" ry="12.65" fill="#fff"/>
<path d="M212.5 1500 H225 V1512.9 H234.2 V1522.3 H225 V1540 Q225 1546.1 231 1546.1 H235 V1557.5 H228 Q212.5 1557.5 212.5 1542 V1522.3 H206.8 V1512.9 H212.5 Z" fill="#a2b966"/>
<ellipse cx="261.55" cy="1534.35" rx="24.55" ry="23.55" fill="#a2b966"/>
<ellipse cx="261.2" cy="1534.35" rx="12" ry="12.55" fill="#fff"/>
<ellipse cx="313" cy="1534.35" rx="22" ry="23.55" fill="#67abc6"/>
<ellipse cx="312.2" cy="1534.35" rx="10" ry="12.55" fill="#fff"/>
<rect x="290.3" y="1494.9" width="12.5" height="62.6" fill="#67abc6"/>
<rect x="339.7" y="1512" width="12.3" height="45.5" fill="#67abc6"/>
<rect x="339.7" y="1494.9" width="12.3" height="11.2" fill="#67abc6"/>
</svg>
</body></html>
